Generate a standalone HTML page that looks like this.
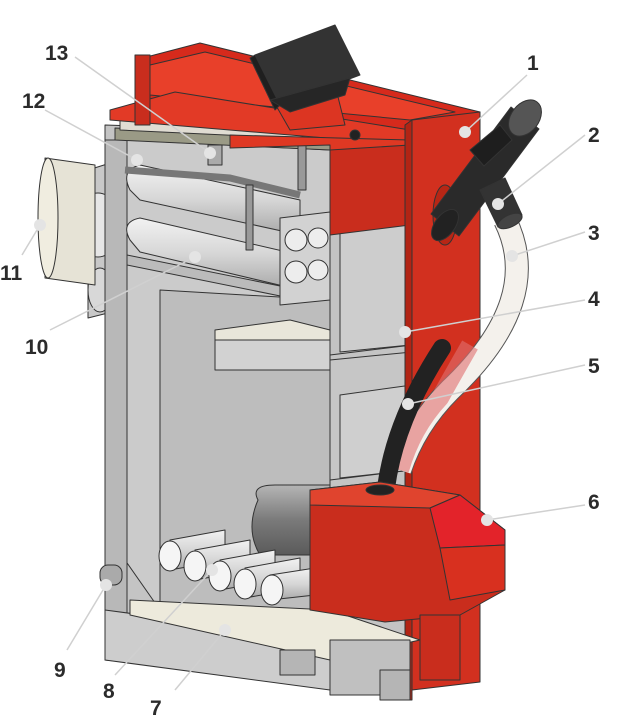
<!DOCTYPE html>
<html><head><meta charset="utf-8"><style>
html,body{margin:0;padding:0;background:#fff;width:633px;height:725px;overflow:hidden}
svg{display:block}
text{font-family:"Liberation Sans",sans-serif;font-weight:bold;font-size:21px;fill:#2b2b2b}
</style></head><body>
<svg width="633" height="725" viewBox="0 0 633 725" xmlns="http://www.w3.org/2000/svg">
<defs>
<linearGradient id="pipe" x1="0" y1="0" x2="0" y2="1"><stop offset="0" stop-color="#f2f2f2"/><stop offset="0.5" stop-color="#d6d6d6"/><stop offset="1" stop-color="#a8a8a8"/></linearGradient>
<linearGradient id="drum" x1="0" y1="0" x2="0" y2="1"><stop offset="0" stop-color="#b5b5b5"/><stop offset="0.5" stop-color="#7a7a7a"/><stop offset="1" stop-color="#5a5a5a"/></linearGradient>
</defs>
<g stroke="#333" stroke-width="1" stroke-linejoin="round">
<polygon points="88,170 120,160 120,310 88,318" fill="#c8c8c8"/>
<ellipse cx="98" cy="225" rx="22" ry="32" fill="#e6e6e6"/>
<ellipse cx="100" cy="290" rx="12" ry="22" fill="#d8d8d8"/>
<path d="M45,158 L95,165 L95,285 L45,278 Z" fill="#e6e3d6"/>
<ellipse cx="48" cy="218" rx="10" ry="60" fill="#f0ede0"/>
<polygon points="105,125 410,135 410,690 105,660" fill="#c4c4c4"/>
<polygon points="125,140 330,150 330,640 160,610 125,560" fill="#cbcbcb"/>
<polygon points="160,290 330,300 330,640 160,610" fill="#bdbdbd"/>
<rect x="105" y="140" width="22" height="510" fill="#b8b8b8"/>
<polygon points="115,128 330,138 330,150 115,140" fill="#9a9a86"/>
<polygon points="120,115 330,120 330,140 120,130" fill="#e0dcd2"/>
<path d="M130,190 Q120,170 140,165 L300,200 L300,235 L140,200 Z" fill="url(#pipe)"/>
<path d="M130,240 Q120,222 140,218 L300,255 L300,290 L140,252 Z" fill="url(#pipe)"/>
<path d="M125,170 L230,178 L300,195" fill="none" stroke="#777" stroke-width="7"/>
<polygon points="127,255 300,290 300,300 127,265" fill="#bbb"/>
<polygon points="280,218 330,212 330,300 280,305" fill="#d2d2d2"/>
<circle cx="296" cy="240" r="11" fill="#ededed"/><circle cx="318" cy="238" r="10" fill="#ededed"/>
<circle cx="296" cy="272" r="11" fill="#ededed"/><circle cx="318" cy="270" r="10" fill="#ededed"/>
<rect x="246" y="185" width="7" height="65" fill="#999"/>
<rect x="298" y="140" width="8" height="50" fill="#999"/>
<rect x="208" y="145" width="14" height="20" fill="#aaa"/>
<polygon points="215,330 290,320 330,330 330,360 215,368" fill="#e9e6da"/>
<polygon points="215,340 330,340 330,370 215,370" fill="#d2d2d2"/>
<polygon points="330,225 412,215 412,345 330,355" fill="#c2c2c2"/>
<polygon points="340,225 410,218 410,345 340,352" fill="#cdcdcd"/>
<polygon points="330,360 412,352 412,470 330,480" fill="#c6c6c6"/>
<polygon points="340,395 412,385 412,470 340,478" fill="#cfcfcf"/>
<polygon points="135,60 200,43 480,112 412,130 135,100" fill="#d62a1c"/>
<polygon points="150,65 205,52 455,112 410,120 150,95" fill="#e8402a"/>
<polygon points="110,110 175,92 410,130 410,145 110,120" fill="#e23a26"/>
<polygon points="230,135 410,140 410,225 330,230 330,145 230,148" fill="#df3823"/>
<polygon points="330,150 410,145 410,225 330,235" fill="#c92d1d"/>
<polygon points="270,95 335,85 345,125 290,130" fill="#dc3522"/>
<polygon points="255,55 335,25 360,75 280,105" fill="#333"/>
<polygon points="250,58 255,55 280,105 275,110" fill="#1f1f1f"/>
<polygon points="270,100 350,78 345,95 290,112" fill="#262626"/>
<circle cx="355" cy="135" r="5" fill="#222"/>
<polygon points="412,120 480,112 480,682 412,690" fill="#d2301f"/>
<polygon points="405,125 412,120 412,700 405,700" fill="#b22414"/>
<ellipse cx="445" cy="215" rx="12" ry="30" fill="#b72615"/>
<polygon points="135,55 150,55 150,125 135,125" fill="#c92d1d"/>
<polygon points="105,610 330,640 330,690 105,660" fill="#cdcdcd"/>
<polygon points="130,600 330,610 420,640 330,660 130,615" fill="#edeadc"/>
<polygon points="330,640 410,640 410,695 330,695" fill="#c0c0c0"/>
<rect x="280" y="650" width="35" height="25" fill="#b5b5b5"/>
<rect x="380" y="670" width="30" height="30" fill="#b5b5b5"/>
<path d="M258,500 Q250,485 275,485 L330,485 L330,555 L260,555 Q245,530 258,500 Z" fill="url(#drum)"/>
<g fill="url(#pipe)">
<path d="M170,540 L225,530 L225,560 L170,570 Z"/>
<path d="M195,550 L250,540 L250,570 L195,580 Z"/>
<path d="M220,560 L275,550 L275,580 L220,590 Z"/>
<path d="M245,568 L300,558 L300,588 L245,598 Z"/>
<path d="M270,575 L315,568 L315,595 L270,600 Z"/>
</g>
<ellipse cx="170" cy="556" rx="11" ry="15" fill="#f5f5f5"/>
<ellipse cx="195" cy="566" rx="11" ry="15" fill="#f5f5f5"/>
<ellipse cx="220" cy="576" rx="11" ry="15" fill="#f5f5f5"/>
<ellipse cx="245" cy="584" rx="11" ry="15" fill="#f5f5f5"/>
<ellipse cx="272" cy="590" rx="11" ry="15" fill="#f5f5f5"/>
<!-- upper black pipe -->
<polygon points="539,129 511,107 431,214 459,236" fill="#2a2a2a"/>
<ellipse cx="445" cy="225" rx="18" ry="10" transform="rotate(-53 445 225)" fill="#222"/>
<polygon points="470,150 500,125 512,140 484,166" fill="#1e1e1e"/>
<ellipse cx="525" cy="118" rx="14" ry="20" transform="rotate(37 525 118)" fill="#555"/>
<!-- flexible hose -->
<path d="M505,220 Q545,300 450,390 Q415,425 400,470" fill="none" stroke="#555" stroke-width="24"/>
<path d="M505,220 Q545,300 450,390 Q415,425 400,470" fill="none" stroke="#f4f1ec" stroke-width="22"/>
<path d="M470,345 Q450,380 440,398 Q412,428 400,470" fill="none" stroke="#e07070" stroke-width="18" opacity="0.6"/>
<!-- hose outlet 2 -->
<polygon points="480,190 505,178 522,215 498,227" fill="#333"/>
<ellipse cx="510" cy="221" rx="13" ry="6" transform="rotate(-25 510 221)" fill="#444"/>
<!-- lower black pipe -->
<path d="M442,348 Q395,420 386,488" fill="none" stroke="#222" stroke-width="18" stroke-linecap="round"/>
<polygon points="310,490 380,482 460,495 505,530 505,590 460,615 385,622 310,610" fill="#c92d1d"/>
<polygon points="310,490 380,482 460,495 430,508 310,505" fill="#e0442e"/>
<polygon points="430,508 460,495 505,530 505,545 440,548" fill="#e3232a"/>
<polygon points="440,548 505,545 505,590 450,600" fill="#d8301f"/>
<ellipse cx="380" cy="490" rx="14" ry="5" fill="#222"/>
<polygon points="420,615 460,615 460,680 420,680" fill="#c92d1d"/>
<rect x="100" y="565" width="22" height="20" rx="8" fill="#aaa"/>
</g>
<g stroke="#d0d0d0" stroke-width="1.5" fill="none">
<line x1="527" y1="75" x2="465" y2="132"/>
<line x1="585" y1="135" x2="498" y2="204"/>
<line x1="585" y1="232" x2="512" y2="256"/>
<line x1="585" y1="300" x2="405" y2="332"/>
<line x1="585" y1="365" x2="408" y2="404"/>
<line x1="585" y1="505" x2="487" y2="520"/>
<line x1="175" y1="690" x2="225" y2="630"/>
<line x1="115" y1="675" x2="212" y2="570"/>
<line x1="67" y1="650" x2="106" y2="585"/>
<line x1="50" y1="330" x2="195" y2="257"/>
<line x1="22" y1="255" x2="40" y2="225"/>
<line x1="45" y1="110" x2="137" y2="160"/>
<line x1="75" y1="57" x2="210" y2="153"/>
</g>
<g fill="#e4e4e4">
<circle cx="465" cy="132" r="6"/><circle cx="498" cy="204" r="6"/><circle cx="512" cy="256" r="6"/>
<circle cx="405" cy="332" r="6"/><circle cx="408" cy="404" r="6"/><circle cx="487" cy="520" r="6"/>
<circle cx="225" cy="630" r="6"/><circle cx="212" cy="570" r="6"/><circle cx="106" cy="585" r="6"/>
<circle cx="195" cy="257" r="6"/><circle cx="40" cy="225" r="6"/><circle cx="137" cy="160" r="6"/><circle cx="210" cy="153" r="6"/>
</g>
<text x="527" y="70">1</text>
<text x="588" y="142">2</text>
<text x="588" y="240">3</text>
<text x="588" y="306">4</text>
<text x="588" y="373">5</text>
<text x="588" y="509">6</text>
<text x="150" y="715">7</text>
<text x="103" y="698">8</text>
<text x="54" y="677">9</text>
<text x="25" y="354">10</text>
<text x="0" y="280">11</text>
<text x="22" y="108">12</text>
<text x="45" y="60">13</text>
</svg>
</body></html>
